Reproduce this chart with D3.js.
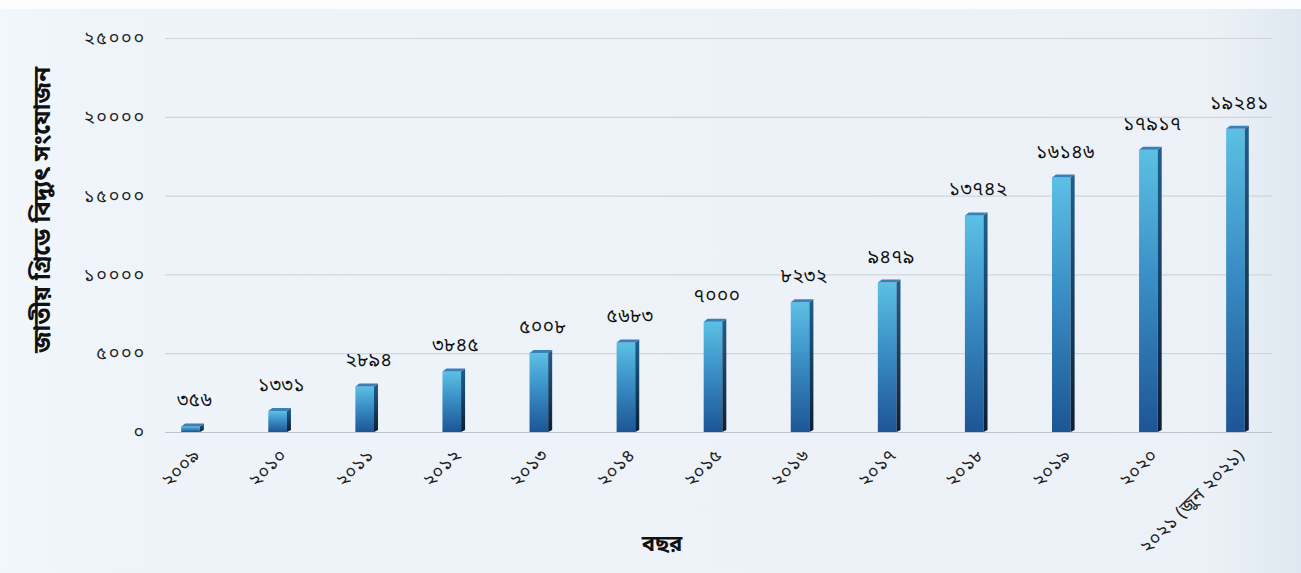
<!DOCTYPE html>
<html>
<head>
<meta charset="utf-8">
<script src="https://cdn.jsdelivr.net/npm/d3@7"></script>
<style>
  html, body { margin: 0; padding: 0; background: #edf2f8; }
  svg { display: block; }
  .tick text { font-family: "Noto Sans", "Noto Sans Bengali", "Noto Sans CJK SC", sans-serif; fill: #222; }
  .value { font-family: "Noto Sans", "Noto Sans Bengali", sans-serif; font-size: 19px; fill: #111; text-anchor: middle; letter-spacing: 0.5px; }
  .title { font-family: "Noto Sans", "Noto Sans Bengali", sans-serif; font-weight: bold; fill: #111; text-anchor: middle; }
</style>
</head>
<body>
<div id="chart"></div>
<script>
const years = ["২০০৯", "২০১০", "২০১১", "২০১২", "২০১৩", "২০১৪", "২০১৫", "২০১৬", "২০১৭", "২০১৮", "২০১৯", "২০২০", "২০২১ (জুন ২০২১)"];
const values = [356, 1331, 2894, 3845, 5008, 5683, 7000, 8232, 9479, 13742, 16146, 17917, 19241];
const valueLabels = ["৩৫৬", "১৩৩১", "২৮৯৪", "৩৮৪৫", "৫০০৮", "৫৬৮৩", "৭০০০", "৮২৩২", "৯৪৭৯", "১৩৭৪২", "১৬১৪৬", "১৭৯১৭", "১৯২৪১"];
const yTicks = [0, 5000, 10000, 15000, 20000, 25000];
const yTickLabels = ["০", "৫০০০", "১০০০০", "১৫০০০", "২০০০০", "২৫০০০"];
const yTitle = "জাতীয় গ্রিডে বিদ্যুৎ সংযোজন";
const xTitle = "বছর";

const width = 1301;
const height = 573;
const depth = 4;

const x = d3.scaleBand()
	.domain(years)
	.range([149, 1281])
	.paddingInner(0.74)
	.paddingOuter(0.37);

const y = d3.scaleLinear()
	.domain([0, 25000])
	.range([432, 38]);

const svg = d3.select("#chart")
	.append("svg")
		.attr("width", width)
		.attr("height", height);

// background
const defs = svg.append("defs");
const bg = defs.append("linearGradient").attr("id", "bg").attr("x1", 0).attr("x2", 1).attr("y1", 0).attr("y2", 0);
bg.append("stop").attr("offset", "0%").attr("stop-color", "#f1f7fc");
bg.append("stop").attr("offset", "7%").attr("stop-color", "#eef4f9");
bg.append("stop").attr("offset", "93%").attr("stop-color", "#ecf1f7");
bg.append("stop").attr("offset", "100%").attr("stop-color", "#dfe8f0");

const front = defs.append("linearGradient").attr("id", "front").attr("x1", 0).attr("x2", 0).attr("y1", 0).attr("y2", 1);
front.append("stop").attr("offset", "0%").attr("stop-color", "#5cc0e4");
front.append("stop").attr("offset", "45%").attr("stop-color", "#3a8fc6");
front.append("stop").attr("offset", "100%").attr("stop-color", "#1d5595");

const side = defs.append("linearGradient").attr("id", "side").attr("x1", 0).attr("x2", 0).attr("y1", 0).attr("y2", 1);
side.append("stop").attr("offset", "0%").attr("stop-color", "#1f5f8e");
side.append("stop").attr("offset", "100%").attr("stop-color", "#0c1f36");

svg.append("rect")
	.attr("width", width)
	.attr("height", height)
	.attr("fill", "url(#bg)");
svg.append("rect")
	.attr("width", width)
	.attr("height", 9)
	.attr("fill", "#fafcfe");

// grid
svg.append("g")
	.selectAll("line")
	.data(yTicks).enter()
	.append("line")
		.attr("x1", 165)
		.attr("x2", 1272)
		.attr("y1", (d) => y(d) + 0.5)
		.attr("y2", (d) => y(d) + 0.5)
		.attr("stroke", (d) => d === 0 ? "#bcc4cc" : "#cfd5db")
		.attr("stroke-width", 1.2);

// y axis labels
const yAxis = svg.append("g")
	.attr("transform", "translate(146,0)")
	.call(d3.axisLeft(y).tickValues(yTicks).tickSize(0).tickPadding(0)
		.tickFormat((d, i) => yTickLabels[i]));
yAxis.select(".domain").remove();
yAxis.selectAll("text")
	.attr("font-size", 18)
	.attr("letter-spacing", "1.8px")
	.attr("fill", "#333");

// x axis labels
const xAxis = svg.append("g")
	.attr("transform", "translate(0,432)")
	.call(d3.axisBottom(x).tickSize(0).tickPadding(0));
xAxis.select(".domain").remove();
xAxis.selectAll("text")
	.attr("font-size", 18)
	.attr("letter-spacing", "0.5px")
	.attr("fill", "#222")
	.attr("text-anchor", "end")
	.attr("dy", 0)
	.attr("transform", "translate(8,24) rotate(-45)");

// bars
const bars = svg.append("g")
	.selectAll(".bar")
	.data(values).enter()
	.append("g")
		.attr("class", "bar")
		.attr("transform", (d, i) => `translate(${x(years[i])},0)`);

const bw = x.bandwidth() - depth;

bars.append("rect")
	.attr("y", (d) => y(d))
	.attr("width", bw)
	.attr("height", (d) => y(0) - y(d))
	.attr("fill", "url(#front)");

bars.append("path")
	.attr("d", (d) => `M${bw},${y(d)} L${bw + depth},${y(d) - depth + 1} L${bw + depth},${y(0) - 2} L${bw},${y(0)} Z`)
	.attr("fill", "url(#side)");

bars.append("path")
	.attr("d", (d) => `M0,${y(d)} L${depth},${y(d) - depth + 1} L${bw + depth},${y(d) - depth + 1} L${bw},${y(d)} Z`)
	.attr("fill", "#3b7fb8");

// value labels
bars.append("text")
	.attr("class", "value")
	.attr("x", x.bandwidth() / 2 + 2)
	.attr("y", (d) => y(d) - 20)
	.text((d, i) => valueLabels[i]);

// titles
svg.append("text")
	.attr("class", "title")
	.attr("font-size", 24)
	.attr("transform", "translate(50,210) rotate(-90)")
	.text(yTitle);

svg.append("text")
	.attr("class", "title")
	.attr("font-size", 22)
	.attr("x", 662)
	.attr("y", 551)
	.text(xTitle);
</script>
</body>
</html>
